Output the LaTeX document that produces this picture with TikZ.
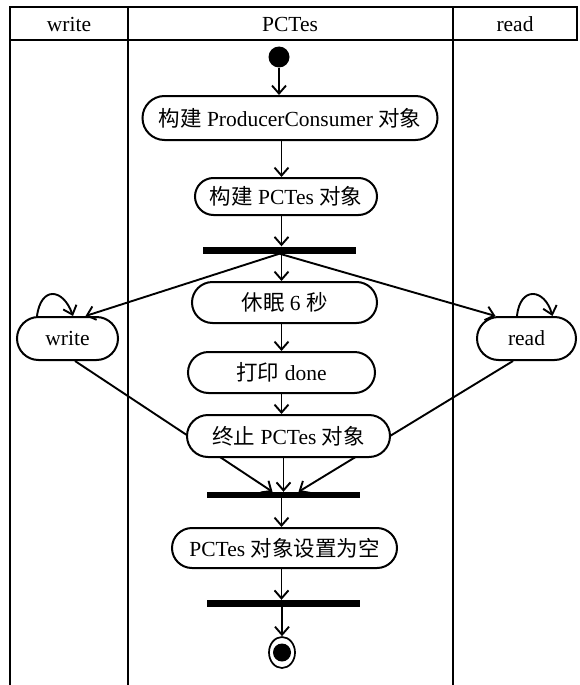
\documentclass[tikz,border=0pt]{standalone}
\usepackage{fontspec}
\setmainfont{Liberation Serif}
\newfontfamily\cjk{Noto Sans CJK SC}[Scale=1.0]
\usetikzlibrary{shapes.misc,shapes.geometric,arrows.meta,backgrounds}

\begin{document}
\begin{tikzpicture}[x=1pt,y=-1pt,
  lane/.style={line width=1.8pt},
  txt/.style={font=\fontsize{21.5}{25}\selectfont},
  act/.style={rounded rectangle, draw, line width=2pt, fill=white, inner sep=0pt, txt},
  bar/.style={rectangle, fill=black, inner sep=0pt, minimum width=153pt, minimum height=7pt},
  flow/.style={line width=1.9pt, -{Straight Barb[length=8pt,width=14pt,line width=1.9pt]}},
]
\useasboundingbox (0,0) rectangle (579,685);

% swimlanes
\draw[lane] (10,7) rectangle (577,40);
\draw[lane] (10,40) -- (10,685);
\draw[lane] (128,7) -- (128,685);
\draw[lane] (453,7) -- (453,685);
\node[txt] (hw) at (69,24) {write};
\node[txt] (hp) at (290,24) {PCTes};
\node[txt] (hr) at (515,24) {read};

\coordinate (spine) at (281.5,0);

% activities
\node[circle, fill=black, minimum size=21pt, inner sep=0pt] (start) at (279,57) {};
\node[act, minimum width=295pt, minimum height=44pt] (n1) at (290,118) {{\cjk 构建} ProducerConsumer {\cjk 对象}};
\node[act, minimum width=182pt, minimum height=37pt] (n2) at (286,196.5) {{\cjk 构建} PCTes {\cjk 对象}};
\node[bar] (bar1) at (279.5,250) {};
\node[act, minimum width=185pt, minimum height=41pt] (sleep) at (284.5,302.5) {{\cjk 休眠} 6 {\cjk 秒}};
\node[act, minimum width=187pt, minimum height=41pt] (done) at (281.5,372.5) {{\cjk 打印} done};
\node[act, minimum width=101pt, minimum height=43pt] (write) at (67.5,338.5) {write};
\node[act, minimum width=99pt, minimum height=43pt] (read) at (526.5,338.5) {read};
\node[act, minimum width=203pt, minimum height=42pt] (term) at (288.5,436) {{\cjk 终止} PCTes {\cjk 对象}};
\node[bar, minimum height=6pt] (bar2) at (283.5,495) {};
\node[act, minimum width=225pt, minimum height=40pt] (null) at (284.5,548) {PCTes {\cjk 对象设置为空}};
\node[bar] (bar3) at (283.5,603.5) {};
\node[ellipse, draw, line width=1.7pt, minimum width=26pt, minimum height=31pt, inner sep=0pt] (end) at (282,652.5) {};
\node[circle, fill=black, minimum size=18pt, inner sep=0pt] (endin) at (end.center) {};

% control flow
\draw[flow] (start.south) -- (start.south |- n1.north);
\draw[flow] (n1.south -| spine) -- (n2.north -| spine);
\draw[flow] (n2.south -| spine) -- (bar1.north -| spine);
\draw[flow] (bar1.south -| spine) -- (sleep.north -| spine);
\draw[flow] (bar1.south) -- ([xshift=18pt]write.north);
\draw[flow] (bar1.south) -- ([xshift=-31pt]read.north);
\draw[flow] (sleep.south -| spine) -- (done.north -| spine);
\draw[flow] (done.south -| spine) -- (term.north -| spine);
\draw[flow] (term.south -| bar2) -- (bar2.north);
\draw[flow] (bar2.south -| spine) -- (null.north -| spine);
\draw[flow] (null.south -| spine) -- (bar3.north -| spine);
\draw[flow] (bar3.south -| end) -- (end.north);

% self loops
\draw[flow] ([xshift=-30.5pt]write.north) .. controls +(4,-30) and +(-10,-28) .. ([xshift=5.5pt]write.north);
\draw[flow] ([xshift=-9.5pt]read.north) .. controls +(3,-30) and +(-8,-28) .. ([xshift=26pt]read.north);

% joins passing behind the termination activity
\begin{scope}[on background layer]
\draw[flow] ([xshift=7.5pt]write.south) -- ([xshift=-11pt]bar2.north);
\draw[flow] ([xshift=-13.5pt]read.south) -- ([xshift=15pt]bar2.north);
\end{scope}
\end{tikzpicture}
\end{document}
